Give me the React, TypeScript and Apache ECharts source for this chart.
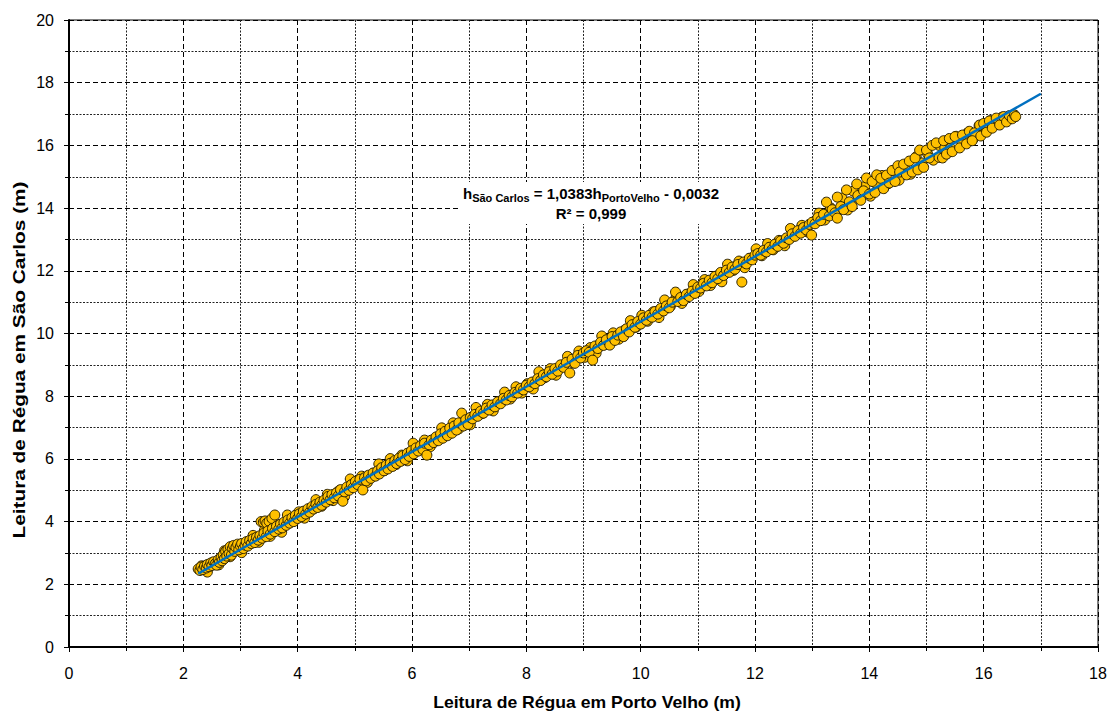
import React, { useEffect, useRef } from 'react';
import * as echarts from 'echarts';

// [Porto Velho reading (m), São Carlos reading (m)] — first group of points
const readingsA: number[][] = [
  [2.26,2.49],[2.29,2.44],[2.31,2.55],[2.34,2.47],[2.37,2.58],[2.40,2.52],[2.42,2.63],[2.45,2.56],[2.48,2.68],[2.50,2.60],
  [2.53,2.72],[2.56,2.66],[2.58,2.61],[2.61,2.78],[2.63,2.70],[2.66,2.86],[2.68,2.75],[2.70,2.95],[2.72,2.82],[2.74,3.05],
  [2.76,2.90],[2.78,3.12],[2.80,2.98],[2.82,3.20],[2.84,2.93],[2.86,3.15],[2.88,3.24],[2.90,3.05],[2.92,3.18],[2.95,3.28],
  [2.97,3.10],[3.00,3.22],[3.02,3.30],[3.05,3.14],[3.08,3.25],
  [3.10,3.36],[3.13,3.22],[3.16,3.40],[3.19,3.30],[3.22,3.45],[3.25,3.33],[3.28,3.50],[3.31,3.41],[3.34,3.55],[3.36,4.00],
  [3.40,3.98],[3.43,4.02],[3.46,3.95],[3.50,4.01],[3.55,4.10],[3.60,4.21],[3.38,3.47],[3.41,3.63],[3.45,3.52],[3.48,3.70],
  [3.52,3.60],[3.56,3.78],[3.60,3.68],[3.63,3.85],[3.67,3.76],[3.70,3.92],[3.73,3.80],[3.76,3.98],[3.80,3.88],[3.83,4.05],
  [3.86,3.95],[3.90,4.12],[3.93,4.00],[3.96,4.20],[4.00,4.10],
  [4.03,4.25],[4.07,4.16],[4.10,4.33],[4.14,4.24],[4.18,4.41],[4.21,4.30],[4.25,4.48],[4.28,4.40],[4.32,4.55],[4.35,4.45],
  [4.39,4.62],[4.42,4.52],[4.46,4.68],[4.50,4.62],[4.53,4.80],[4.57,4.70],[4.60,4.86],[4.64,4.76],[4.68,4.92],[4.71,4.82],
  [4.75,5.02],[4.79,4.65],[4.82,4.95],[4.86,5.10],[4.90,5.00],[4.94,5.18],[4.97,5.08],[5.01,5.28],
  [5.05,5.18],[5.09,5.35],[5.14,5.01],[5.17,5.40],[5.20,5.30],[5.24,5.48],[5.28,5.38],[5.32,5.55],[5.36,5.45],[5.40,5.62],
  [5.43,5.52],[5.47,5.72],[5.51,5.62],[5.55,5.80],[5.58,5.68],[5.62,5.86],[5.66,5.76],[5.70,5.95],[5.73,5.85],[5.77,6.02],
  [5.80,5.92],[5.84,6.10],[5.88,5.98],[5.92,6.18],[5.95,6.08],[5.99,6.26],
  [6.03,6.16],[6.07,6.35],[6.11,6.25],[6.15,6.42],[6.19,6.30],[6.22,6.50],[6.26,6.12],[6.30,6.45],[6.34,6.60],[6.38,6.52],
  [6.42,6.70],[6.46,6.58],[6.50,6.80],[6.54,6.66],[6.58,6.88],[6.62,6.74],[6.66,6.98],[6.70,6.82],[6.74,7.05],[6.78,6.92],
  [6.82,7.15],[6.87,7.46],[6.90,7.05],[6.94,7.25],[6.98,7.10],[7.02,7.32],
  [7.06,7.28],[7.10,7.42],[7.15,7.36],[7.20,7.52],[7.25,7.46],[7.30,7.62],[7.35,7.56],[7.40,7.72],[7.45,7.66],[7.50,7.82],
  [7.55,7.76],[7.60,7.93],[7.65,7.88],[7.70,8.02],[7.75,7.98],[7.80,8.12],[7.85,8.10],[7.90,8.25],[7.95,8.20],[8.00,8.35],
  [8.05,8.30],[8.10,8.45],[8.15,8.40],[8.20,8.56],[8.25,8.50],[8.30,8.68],[8.35,8.62],[8.40,8.78],[8.45,8.70],[8.50,8.88],
  [8.55,8.80],[8.60,9.00],[8.65,8.92],[8.70,9.08],[8.76,8.74],[8.80,9.18],[8.85,9.05],[8.90,9.30],[8.95,9.22],[9.00,9.38],
  [9.05,9.45],[9.10,9.40],[9.16,9.15],[9.20,9.60],[9.25,9.52],[9.30,9.72],[9.35,9.62],[9.40,9.80],[9.46,9.63],[9.50,9.90],
  [9.55,9.78],[9.60,9.95],[9.65,10.05],[9.70,9.90],[9.75,10.15],[9.80,10.05],[9.85,10.28],[9.90,10.20],[9.95,10.38],[10.00,10.30],
  [10.05,10.50],[10.10,10.42],[10.15,10.58],[10.20,10.52],[10.25,10.70],[10.30,10.62],[10.35,10.80],[10.40,10.72],[10.45,10.88],[10.50,10.82],
  [10.55,11.00],[10.61,11.32],[10.65,11.02],[10.70,11.15],[10.75,11.05],[10.80,11.25],[10.85,11.18],[10.90,11.35],[10.95,11.28],[11.00,11.48],
  [11.05,11.45],[11.10,11.60],[11.15,11.52],[11.20,11.70],[11.25,11.62],[11.30,11.82],[11.35,11.75],[11.40,11.95],[11.45,11.85],[11.50,12.02],
  [11.55,11.95],[11.60,12.12],[11.65,12.05],[11.70,12.20],[11.77,11.64],[11.80,12.28],[11.85,12.22],[11.90,12.40],[11.95,12.35],[12.00,12.50],
  [12.05,12.55],[12.10,12.50],[12.15,12.65],[12.20,12.60],[12.25,12.75],[12.30,12.68],[12.35,12.85],[12.40,12.78],[12.45,12.95],[12.50,12.88],
  [12.55,13.05],[12.60,13.00],[12.65,13.18],[12.70,13.10],[12.75,13.28],[12.80,13.20],[12.85,13.38],[12.90,13.30],[12.95,13.48],[12.99,13.14],[13.00,13.55],
  [13.05,13.50],[13.10,13.70],[13.15,13.60],[13.20,13.80],[13.25,14.19],[13.30,13.75],[13.35,13.95],[13.40,13.85],[13.44,14.35],[13.44,13.68],
  [13.50,14.05],[13.55,13.95],[13.60,14.58],[13.65,14.20],[13.70,14.05],[13.78,14.77],[13.80,14.40],[13.85,14.25],[13.90,14.55],[13.95,14.96],[14.00,14.45],
  [14.05,14.85],[14.10,14.50],[14.13,15.06],[14.20,14.95],[14.25,14.62],[14.30,15.05],[14.35,14.80],[14.40,15.20],[14.45,14.85],[14.50,15.35],
  [14.53,15.15],[14.60,15.40],[14.65,15.06],[14.70,15.50],[14.75,15.15],[14.80,15.60],[14.85,15.22],[14.88,15.85],[14.95,15.30],[15.00,15.85],
  [15.05,15.60],[15.10,16.00],[15.17,16.08],[15.22,15.62],[15.28,15.60],[15.30,16.15],[15.35,15.72],[15.40,16.22],[15.45,15.80],[15.50,16.28],
  [15.58,15.92],[15.63,16.33],[15.70,16.05],[15.75,16.45],[15.84,16.40],[15.80,16.15],[15.93,16.65],[15.95,16.30],[16.00,16.70],[16.05,16.42],
  [16.10,16.78],[16.15,16.55],[16.22,16.87],[16.28,16.65],[16.35,16.92],[16.40,16.75],[16.45,16.95],[16.50,16.85],[16.54,16.97],[16.56,16.92],
];

// second group of points, filling the band
const readingsB: number[][] = [
  [2.32,2.59],[2.42,2.39],[2.52,2.69],[2.62,2.62],[2.72,3.07],[2.82,2.88],[2.92,3.17],[3.02,3.01],[3.12,3.26],[3.22,3.56],
  [3.32,3.34],[3.42,3.73],[3.52,3.53],[3.62,3.84],[3.72,3.66],[3.82,4.21],[3.92,4.02],[4.02,4.31],[4.12,4.11],[4.22,4.40],
  [4.32,4.70],[4.42,4.49],[4.52,4.87],[4.62,4.67],[4.72,4.98],[4.82,4.80],[4.92,5.36],[5.02,5.16],[5.12,5.45],[5.22,5.25],
  [5.32,5.54],[5.42,5.84],[5.52,5.63],[5.62,6.01],[5.72,5.82],[5.82,6.12],[5.92,5.94],[6.02,6.50],[6.12,6.30],[6.22,6.60],
  [6.32,6.39],[6.42,6.68],[6.52,6.99],[6.62,6.77],[6.72,7.15],[6.82,6.96],[6.92,7.26],[7.02,7.09],[7.12,7.64],[7.22,7.44],
  [7.32,7.74],[7.42,7.53],[7.52,7.83],[7.62,8.13],[7.72,7.91],[7.82,8.30],[7.92,8.10],[8.02,8.40],[8.12,8.23],[8.22,8.78],
  [8.32,8.59],[8.42,8.88],[8.52,8.67],[8.62,8.97],[8.72,9.27],[8.82,9.06],[8.92,9.44],[9.02,9.24],[9.12,9.55],[9.22,9.37],
  [9.32,9.92],[9.42,9.73],[9.52,10.02],[9.62,9.82],[9.72,10.11],[9.82,10.41],[9.92,10.20],[10.02,10.58],[10.12,10.39],[10.22,10.69],
  [10.32,10.51],[10.42,11.07],[10.52,10.87],[10.62,11.16],[10.72,10.96],[10.82,11.25],[10.92,11.56],[11.02,11.34],[11.12,11.72],[11.22,11.53],
  [11.32,11.83],[11.42,11.65],[11.52,12.21],[11.62,12.01],[11.72,12.31],[11.82,12.10],[11.92,12.39],[12.02,12.70],[12.12,12.48],[12.22,12.87],
  [12.32,12.67],[12.42,12.97],[12.52,12.80],[12.62,13.35],[12.72,13.15],[12.82,13.45],[12.92,13.24],[13.02,13.54],[13.12,13.84],[13.22,13.62],
  [13.32,14.01],[13.42,13.81],[13.52,14.32],[13.62,13.94],[13.72,14.54],[13.82,14.30],[13.92,14.69],[14.02,14.38],[14.12,14.78],[14.22,15.04],
  [14.32,14.77],[14.42,15.19],[14.52,14.89],[14.62,15.26],[14.72,15.08],[14.82,15.64],[14.92,15.44],[15.02,15.73],[15.12,15.53],[15.22,16.00],
  [15.32,15.92],[15.42,15.91],[15.52,16.29],[15.62,16.10],[15.72,16.40],[15.82,16.22],[15.92,16.63],[16.02,16.58],[16.12,16.79],[16.22,16.67],
  [16.32,16.90],[16.42,16.83],[16.52,16.97],
];

// Linear trend line end points (h_SC = 1,0383 h_PV - 0,0032)
const trendX = [2.26, 17.0];
const trendY = [2.343, 17.648];

const xAxisTitle = 'Leitura de Régua em Porto Velho (m)';
const yAxisTitle = 'Leitura de Régua em São Carlos (m)';
const xRange = [0, 18];
const yRange = [0, 20];

const FONT = '"Liberation Sans", Arial, sans-serif';

export default function App() {
  const ref = useRef<HTMLDivElement>(null);
  useEffect(() => {
    const chart = echarts.init(ref.current!, null, { renderer: 'svg' });
    const axisCommon = {
      type: 'value',
      interval: 2,
      axisLine: { show: true, lineStyle: { color: '#000', width: 2 } },
      axisTick: { show: true, inside: false, length: 5, lineStyle: { color: '#000', width: 1 } },
      minorTick: { show: true, splitNumber: 2, length: 4, lineStyle: { color: '#000', width: 1 } },
      axisLabel: { fontFamily: FONT, fontSize: 16, color: '#000' },
      splitLine: { show: true, lineStyle: { color: '#000', width: 1, type: [5, 3] } },
      minorSplitLine: { show: true, lineStyle: { color: '#222', width: 1, type: [2, 1.5] } },
    };
    const pointStyle = { color: '#FFC000', borderColor: '#2b2100', borderWidth: 1, opacity: 1 };
    const titleStyle = { fontFamily: FONT, fontWeight: 'bold', fontSize: 16, fill: '#000', align: 'center', verticalAlign: 'middle' };
    chart.setOption({
      animation: false,
      backgroundColor: '#fff',
      grid: {
        left: 69, right: 12, top: 20, bottom: 64,
        show: true, borderColor: '#000', borderWidth: 1, backgroundColor: 'transparent',
        containLabel: false, outerBoundsMode: 'none',
      },
      xAxis: {
        ...axisCommon,
        min: xRange[0],
        max: xRange[1],
        axisLabel: { ...axisCommon.axisLabel, margin: 18 },
      },
      yAxis: {
        ...axisCommon,
        min: yRange[0],
        max: yRange[1],
        axisLabel: { ...axisCommon.axisLabel, margin: 15 },
      },
      series: [
        {
          type: 'scatter',
          data: readingsB,
          symbol: 'circle',
          symbolSize: 10,
          itemStyle: pointStyle,
          z: 2,
        },
        {
          type: 'scatter',
          data: readingsA,
          symbol: 'circle',
          symbolSize: 10,
          itemStyle: pointStyle,
          z: 2,
        },
        {
          type: 'line',
          data: trendX.map((x, i) => [x, trendY[i]]),
          showSymbol: false,
          symbol: 'none',
          lineStyle: { color: '#0070C0', width: 2.5 },
          z: 3,
        },
      ],
      graphic: [
        {
          type: 'text',
          x: 587,
          y: 703,
          scaleX: 1.1,
          style: { ...titleStyle, text: xAxisTitle },
        },
        {
          type: 'text',
          x: 19,
          y: 360,
          rotation: Math.PI / 2,
          scaleX: 1.3,
          style: { ...titleStyle, text: yAxisTitle },
        },
        {
          type: 'text',
          x: 591,
          y: 182,
          z: 10,
          style: {
            text: '{h|h}{s|São Carlos}{h| = 1,0383h}{s|PortoVelho}{h| - 0,0032}\n{h|R² = 0,999}',
            align: 'center',
            verticalAlign: 'top',
            backgroundColor: '#fff',
            padding: [1, 4, 1, 4],
            rich: {
              h: { fontFamily: FONT, fontWeight: 'bold', fontSize: 15, lineHeight: 20, color: '#0070C0' },
              s: { fontFamily: FONT, fontWeight: 'bold', fontSize: 11, lineHeight: 8, verticalAlign: 'bottom', color: '#0070C0' },
            },
          },
        },
      ],
    });
    return () => chart.dispose();
  }, []);
  return (
    <div
      ref={ref}
      style={{ position: 'absolute', left: 0, top: 0, width: 1110, height: 711, background: '#fff' }}
    />
  );
}
